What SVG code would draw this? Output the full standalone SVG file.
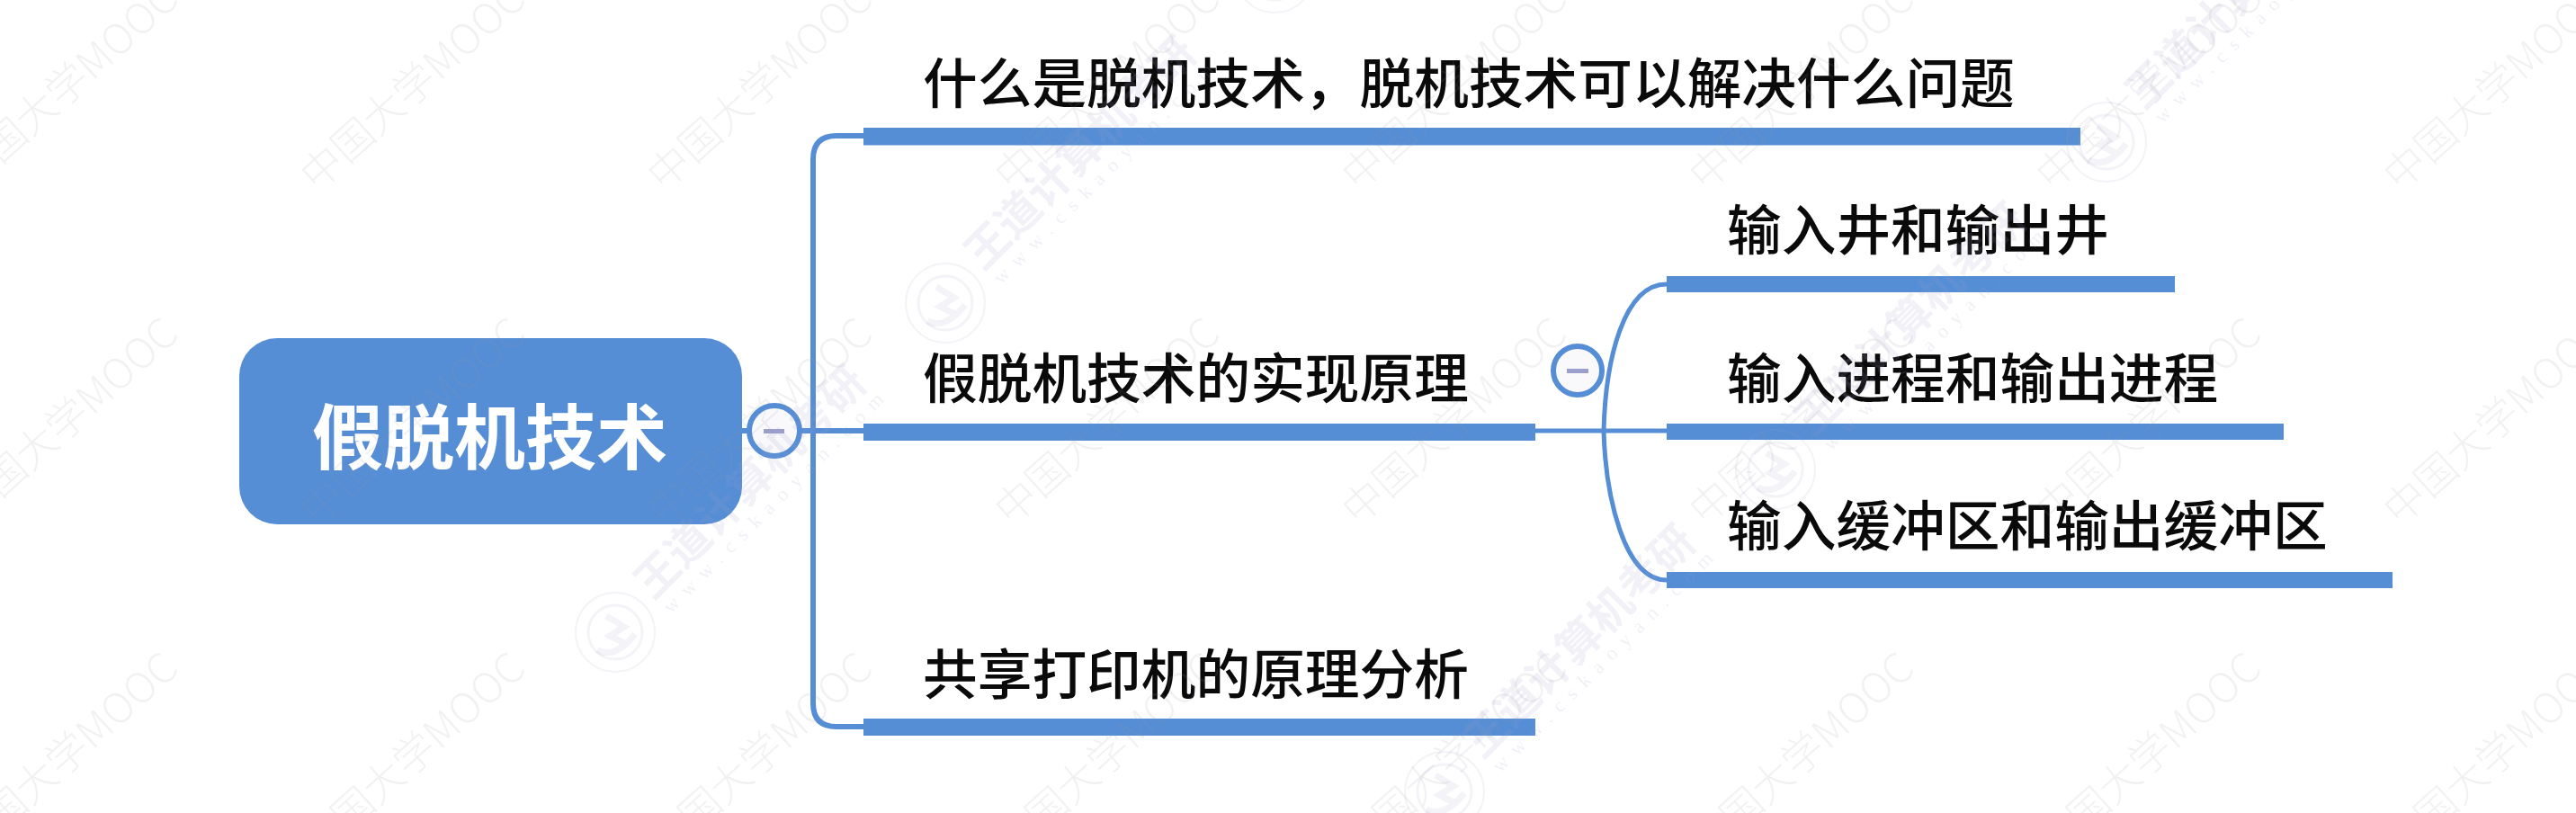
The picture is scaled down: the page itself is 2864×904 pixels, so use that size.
<svg xmlns="http://www.w3.org/2000/svg" xmlns:xlink="http://www.w3.org/1999/xlink" width="2864" height="904" viewBox="0 0 2864 904">
<style>
text{font-family:"Noto Sans CJK SC","Noto Sans",sans-serif}
.t{font-size:60.7px;font-weight:500;fill:#0a0a0a}
.root{font-size:79px;font-weight:700;fill:#fff}
.bar{fill:#568ed6}
.c1{fill:none;stroke:#568ed6;stroke-width:6}
.c2{fill:none;stroke:#568ed6;stroke-width:5}
.tog{fill:#f9f9fc;stroke:#568ed6;stroke-width:6}
.minus{fill:#9c9fcc}
.mk{font-size:46px;font-weight:300;fill:#8f8f9c;fill-opacity:.12}
.wd{font-size:48.500px;font-weight:700;fill:#9a9ac8;fill-opacity:.14}
.url{font-family:"Liberation Serif",serif;font-size:22px;letter-spacing:10.6px;fill:#9a9ac8;fill-opacity:.16}
.lg{fill:none;stroke:#9a9ac8;stroke-opacity:.12}
</style>
<defs>
<text id="mk" class="mk">中国大学MOOC</text>
<g id="stamp">
<circle class="lg" r="44" stroke-width="2"/>
<circle class="lg" r="30" stroke-width="3"/>
<path class="lg" stroke-width="7" d="M-10 -18 L10 -6 L-6 4 L10 12 M-20 20 Q0 30 22 2"/>
<text class="wd" transform="translate(42 -35) rotate(-45)">王道计算机考研</text>
<text class="url" transform="translate(62 -20) rotate(-45)">www.cskaoyan.com</text>
</g>
</defs>
<rect width="2864" height="904" fill="#fff"/>
<g id="connectors">
<path class="c1" d="M825 479H890"/>
<path class="c1" d="M904 177V177Q904 151 930 151H960"/>
<path class="c1" d="M904 177V782Q904 808 930 808H960"/>
<path class="c1" d="M890 479H960"/>
<path class="c2" d="M1707 479H1853"/>
<path class="c2" d="M1783 479C1785 400 1805 316 1853 316"/>
<path class="c2" d="M1783 479C1785 550 1805 645 1853 645"/>
</g>
<g id="node-root">
<rect x="266" y="376" width="559" height="207" rx="42" fill="#568ed6"/>
<text class="root" x="347" y="516">假脱机技术</text>
<circle class="tog" cx="861" cy="479" r="28"/>
<rect class="minus" x="849" y="477" width="23" height="5"/>
</g>
<g id="node-what">
<rect class="bar" x="960" y="142" width="1353" height="19.500"/>
<text class="t" x="1026" y="115">什么是脱机技术，脱机技术可以解决什么问题</text>
</g>
<g id="node-principle">
<rect class="bar" x="960" y="471" width="747" height="19"/>
<text class="t" x="1026" y="443">假脱机技术的实现原理</text>
<circle class="tog" cx="1754" cy="412" r="27"/>
<rect class="minus" x="1742" y="410" width="24" height="5"/>
</g>
<g id="node-printer">
<rect class="bar" x="960" y="799" width="747" height="19"/>
<text class="t" x="1026" y="772">共享打印机的原理分析</text>
</g>
<g id="node-wells">
<rect class="bar" x="1853" y="307" width="565" height="18"/>
<text class="t" x="1920" y="278">输入井和输出井</text>
</g>
<g id="node-procs">
<rect class="bar" x="1853" y="471" width="686" height="18"/>
<text class="t" x="1920" y="443">输入进程和输出进程</text>
</g>
<g id="node-buffers">
<rect class="bar" x="1853" y="636" width="807" height="18"/>
<text class="t" x="1920" y="607">输入缓冲区和输出缓冲区</text>
</g>
<g id="watermark">
<use xlink:href="#mk" transform="translate(-34 214) rotate(-42)"/>
<use xlink:href="#mk" transform="translate(352 214) rotate(-42)"/>
<use xlink:href="#mk" transform="translate(738 214) rotate(-42)"/>
<use xlink:href="#mk" transform="translate(1124 214) rotate(-42)"/>
<use xlink:href="#mk" transform="translate(1510 214) rotate(-42)"/>
<use xlink:href="#mk" transform="translate(1896 214) rotate(-42)"/>
<use xlink:href="#mk" transform="translate(2282 214) rotate(-42)"/>
<use xlink:href="#mk" transform="translate(2668 214) rotate(-42)"/>
<use xlink:href="#mk" transform="translate(-34 586) rotate(-42)"/>
<use xlink:href="#mk" transform="translate(352 586) rotate(-42)"/>
<use xlink:href="#mk" transform="translate(738 586) rotate(-42)"/>
<use xlink:href="#mk" transform="translate(1124 586) rotate(-42)"/>
<use xlink:href="#mk" transform="translate(1510 586) rotate(-42)"/>
<use xlink:href="#mk" transform="translate(1896 586) rotate(-42)"/>
<use xlink:href="#mk" transform="translate(2282 586) rotate(-42)"/>
<use xlink:href="#mk" transform="translate(2668 586) rotate(-42)"/>
<use xlink:href="#mk" transform="translate(-34 958) rotate(-42)"/>
<use xlink:href="#mk" transform="translate(352 958) rotate(-42)"/>
<use xlink:href="#mk" transform="translate(738 958) rotate(-42)"/>
<use xlink:href="#mk" transform="translate(1124 958) rotate(-42)"/>
<use xlink:href="#mk" transform="translate(1510 958) rotate(-42)"/>
<use xlink:href="#mk" transform="translate(1896 958) rotate(-42)"/>
<use xlink:href="#mk" transform="translate(2282 958) rotate(-42)"/>
<use xlink:href="#mk" transform="translate(2668 958) rotate(-42)"/>
<use xlink:href="#stamp" transform="translate(684 703)"/>
<use xlink:href="#stamp" transform="translate(1051 337)"/>
<use xlink:href="#stamp" transform="translate(1417 -30)"/>
<use xlink:href="#stamp" transform="translate(1606 880)"/>
<use xlink:href="#stamp" transform="translate(1974 522)"/>
<use xlink:href="#stamp" transform="translate(2342 158)"/>
</g>
</svg>
